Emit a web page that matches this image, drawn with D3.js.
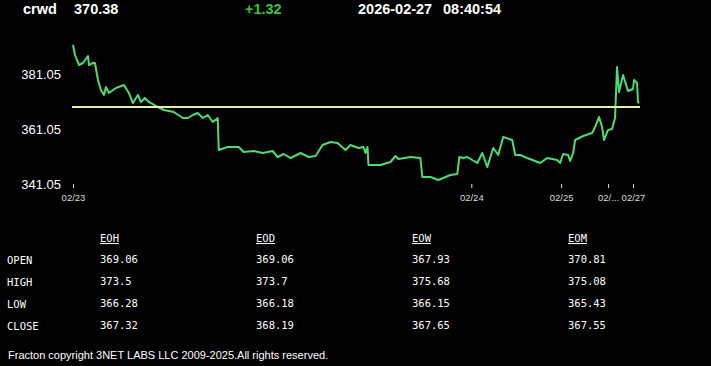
<!DOCTYPE html>
<html>
<head>
<meta charset="utf-8">
<script src="https://cdn.jsdelivr.net/npm/d3@7"></script>
<style>
  html, body { margin: 0; padding: 0; background: #000; }
  svg { display: block; }
</style>
</head>
<body>
<svg id="chart" width="711" height="366"></svg>
<script>
// header
const symbol = "crwd";
const lastPrice = "370.38";
const change = "+1.32";
const quoteDate = "2026-02-27";
const quoteTime = "08:40:54";

// intraday series: bar index and price
const barIndex = [0, 2, 6, 10, 15, 16, 20, 22, 25, 28, 31, 33, 36, 43, 51, 56, 60, 65, 68, 72, 76, 85, 91, 101, 110, 115, 120, 125, 130, 135, 140, 145,
  146, 155, 166, 171, 181, 190, 200, 205, 211, 218, 228, 236, 243, 250, 258, 265, 273, 278, 286, 291, 293, 295,
  296, 308, 318, 323, 326, 338, 348, 350, 358, 366, 378, 385, 387, 391, 395, 400, 405, 410, 415, 421, 426, 431, 440,
  443, 448, 455, 468, 475, 485, 488, 491, 496, 498, 501, 503, 511, 520, 523, 527, 530, 532, 536, 540, 543,
  545, 547, 551, 556, 561, 562, 565, 566, 567];
const prices = [391.6, 387.96, 384.32, 385.05, 387.6, 384.3, 385.05, 385.05, 378.87, 375.23, 373.41, 376.32, 374.14, 375.96, 377.05, 374.14, 370.5, 373.41, 370.87, 372.32, 370.87, 369.05, 367.96, 367.23, 365.05, 365.05, 366.14, 366.87, 365.05, 366.14, 363.6, 365.05,
  353.41, 354.5, 354.5, 352.69, 353.05, 352.32, 353.05, 350.87, 351.96, 350.5, 352.32, 350.87, 351.23, 355.23, 356.32, 355.96, 353.41, 355.23, 354.14, 354.5, 352.32, 354.5,
  347.96, 347.96, 349.05, 351.23, 350.14, 350.87, 350.5, 343.6, 343.6, 342.5, 344.32, 344.69, 350.87, 350.5, 350.87, 349.78, 348.69, 352.32, 347.23, 354.14, 351.6, 358.14, 357.05,
  351.6, 351.6, 350.5, 348.69, 350.5, 349.78, 348.69, 351.96, 351.6, 349.41, 352.32, 357.05, 358.5, 359.6, 361.78, 365.41, 361.78, 357.05, 360.69, 361.05, 365.05,
  383.6, 374.5, 380.69, 374.87, 375.6, 378.87, 377.78, 370.87, 370.38];

const openPrice = 369.06;

// axes
const yTicks = [341.05, 361.05, 381.05];
const xTickIndex = [0, 399, 489, 536, 561];
const xTickLabels = ["02/23", "02/24", "02/25", "02/...", "02/27"];

// summary table
const tableCols = ["EOH", "EOD", "EOW", "EOM"];
const tableRows = ["OPEN", "HIGH", "LOW", "CLOSE"];
const eoh = ["369.06", "373.5", "366.28", "367.32"];
const eod = ["369.06", "373.7", "366.18", "368.19"];
const eow = ["367.93", "375.68", "366.15", "367.65"];
const eom = ["370.81", "375.08", "365.43", "367.55"];

const footer = "Fracton copyright 3NET LABS LLC 2009-2025.All rights reserved.";

let svg = d3.select("#chart");
svg.append("rect").attr("width", 711).attr("height", 366).attr("fill", "#000");

// header line
let head = svg.append("g")
  .attr("font-family", "Arial, 'Liberation Sans', sans-serif")
  .attr("font-weight", "bold")
  .attr("font-size", "14.5px");
head.append("text").attr("x", 23).attr("y", 14).attr("fill", "#fff").text(symbol);
head.append("text").attr("x", 74).attr("y", 14).attr("fill", "#fff").text(lastPrice);
head.append("text").attr("x", 245).attr("y", 14).attr("fill", "#3ec43e").text(change);
head.append("text").attr("x", 358).attr("y", 14).attr("fill", "#fff").text(quoteDate);
head.append("text").attr("x", 443).attr("y", 14).attr("fill", "#fff").text(quoteTime);

// scales
let x = d3.scaleLinear().domain([0, d3.max(barIndex)]).range([73, 639]);
let y = d3.scaleLinear().domain([341.05, 381.05]).range([184, 74]);

let data = barIndex.map((b, i) => ({ b: b, p: prices[i] }));

// y axis labels
let yAxis = d3.axisLeft(y).tickValues(yTicks).tickSize(0).tickPadding(0).tickFormat(d => d.toFixed(2));
let gy = svg.append("g").attr("transform", "translate(61,0)").call(yAxis);
gy.select(".domain").remove();
gy.selectAll("text")
  .attr("fill", "#fff")
  .attr("font-family", "Arial, 'Liberation Sans', sans-serif")
  .attr("font-size", "13px");

// x axis
let xAxis = d3.axisBottom(x).tickValues(xTickIndex).tickSize(4).tickPadding(6)
  .tickFormat((d, i) => xTickLabels[i]);
let gx = svg.append("g").attr("transform", "translate(0,184)").call(xAxis);
gx.select(".domain").remove();
gx.selectAll("line").attr("stroke", "#ddd");
gx.selectAll("text")
  .attr("fill", "#ddd")
  .attr("font-family", "Arial, 'Liberation Sans', sans-serif")
  .attr("font-size", "9.5px");

// price line
let line = d3.line().x(d => x(d.b)).y(d => y(d.p));
svg.append("path")
  .datum(data)
  .attr("fill", "none")
  .attr("stroke", "#4ddb73")
  .attr("stroke-width", 2)
  .attr("stroke-linejoin", "round")
  .attr("d", line);

// open reference line
svg.append("line")
  .attr("x1", x(0) - 1).attr("x2", x(d3.max(barIndex)) + 1)
  .attr("y1", y(openPrice)).attr("y2", y(openPrice))
  .attr("stroke", "#e4f2a4")
  .attr("stroke-width", 2);

// table
let colX = d3.scalePoint().domain(tableCols).range([100, 568]);
let rowY = d3.scalePoint().domain(tableRows).range([264, 330]);
let colValues = [eoh, eod, eow, eom];

let tbl = svg.append("g")
  .attr("font-family", "'DejaVu Sans Mono', 'Liberation Mono', monospace")
  .attr("font-size", "10.5px")
  .attr("fill", "#fff");

tbl.selectAll(".colHead")
  .data(tableCols)
  .enter().append("text")
  .attr("class", "colHead")
  .attr("x", d => colX(d))
  .attr("y", 242)
  .attr("text-decoration", "underline")
  .text(d => d);

tbl.selectAll(".rowHead")
  .data(tableRows)
  .enter().append("text")
  .attr("class", "rowHead")
  .attr("x", 7)
  .attr("y", d => rowY(d))
  .text(d => d);

tableCols.forEach((c, ci) => {
  tbl.selectAll(".cell" + ci)
    .data(colValues[ci])
    .enter().append("text")
    .attr("x", colX(c))
    .attr("y", (d, i) => rowY(tableRows[i]) - 1)
    .text(d => d);
});

// footer
svg.append("text")
  .attr("x", 8).attr("y", 359)
  .attr("fill", "#fff")
  .attr("font-family", "Arial, 'Liberation Sans', sans-serif")
  .attr("font-size", "11px")
  .text(footer);
</script>
</body>
</html>
